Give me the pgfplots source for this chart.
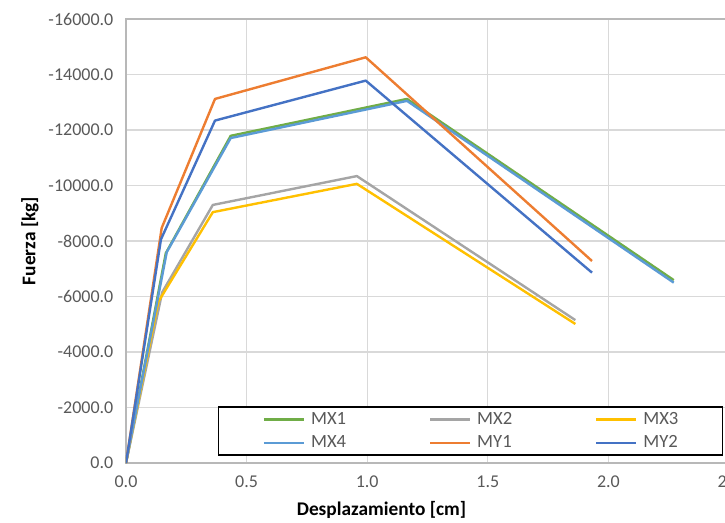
\documentclass[border=0pt]{standalone}
\usepackage{pgfplots}
\pgfplotsset{compat=1.18}
\usepackage{fontspec}
\setmainfont{Carlito}

\definecolor{cMXa}{HTML}{70AD47}
\definecolor{cMXb}{HTML}{A5A5A5}
\definecolor{cMXc}{HTML}{FFC000}
\definecolor{cMXd}{HTML}{5B9BD5}
\definecolor{cMYa}{HTML}{ED7D31}
\definecolor{cMYb}{HTML}{4472C4}
\definecolor{gridgray}{HTML}{D9D9D9}
\definecolor{tickgray}{HTML}{595959}

\begin{document}
\begin{tikzpicture}
\begin{axis}[
  name=ax,
  scale only axis,
  width=452.25pt, height=333pt,
  xmin=0, xmax=2.5, ymin=-16000, ymax=0,
  y dir=reverse,
  xtick={0,0.5,...,2.5},
  ytick={-16000,-14000,...,0},
  scaled ticks=false,
  grid=major,
  major grid style={draw=gridgray, line width=0.9pt},
  axis line style={draw=gridgray!85!black, line width=0.9pt},
  tick style={draw=none},
  ticklabel style={font=\fontsize{13.5}{16}\selectfont, text=tickgray},
  yticklabel style={xshift=-6pt},
  xticklabel style={yshift=-6pt},
  /pgf/number format/fixed,
  /pgf/number format/fixed zerofill,
  /pgf/number format/precision=1,
  /pgf/number format/1000 sep={},
  /pgf/number format/assume math mode=true,
  xlabel={Desplazamiento [cm]},
  ylabel={Fuerza [kg]},
  xlabel style={at={(axis description cs:0.4237,0)}, anchor=center, yshift=-35pt,
    font=\fontsize{14.5}{17}\selectfont\bfseries},
  ylabel style={at={([xshift=-72pt]axis description cs:0,0.5)}, anchor=center,
    font=\fontsize{14.5}{17}\selectfont\bfseries},
  legend columns=3,
  legend cell align=left,
  legend image code/.code={\path (0pt,0pt); \draw[#1] (10pt,0pt) -- (40pt,0pt);},
  legend style={at={(0.1526,0.0164)}, anchor=south west,
    draw=black, line width=1pt, fill=white,
    inner xsep=23pt, inner ysep=1.75pt, row sep=2.5pt,
    font=\fontsize{14}{16}\selectfont, text=tickgray,
    nodes={text width=32pt, inner xsep=4.5pt, inner ysep=1pt, text height=10pt, text depth=3pt},
    /tikz/every even column/.append style={column sep=41.8pt}},
  every axis plot/.append style={line width=1.8pt, line join=round, no marks},
]
\addplot[cMXa] coordinates {(0,0) (0.165,-7560) (0.434,-11790) (1.165,-13120) (2.271,-6590)};
\addlegendentry{MX1}
\addplot[cMXb] coordinates {(0,0) (0.150,-6150) (0.360,-9300) (0.957,-10340) (1.863,-5150)};
\addlegendentry{MX2}
\addplot[cMXc] coordinates {(0,0) (0.134,-5810) (0.360,-9040) (0.957,-10060) (1.863,-5010)};
\addlegendentry{MX3}
\addplot[cMXd] coordinates {(0,0) (0.169,-7600) (0.434,-11710) (1.165,-13050) (2.271,-6500)};
\addlegendentry{MX4}
\addplot[cMYa] coordinates {(0,0) (0.148,-8470) (0.369,-13120) (0.994,-14620) (1.932,-7280)};
\addlegendentry{MY1}
\addplot[cMYb] coordinates {(0,0) (0.145,-8060) (0.369,-12340) (0.994,-13780) (1.932,-6860)};
\addlegendentry{MY2}
\end{axis}
\pgfresetboundingbox
\path[use as bounding box] ([xshift=-94.5pt,yshift=-44.25pt]ax.south west)
  rectangle ([xshift=-3pt,yshift=14.25pt]ax.north east);
\end{tikzpicture}
\end{document}
